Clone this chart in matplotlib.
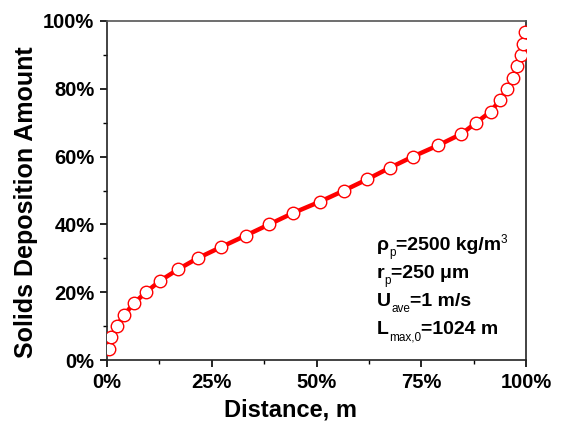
import matplotlib
matplotlib.use("Agg")
import matplotlib.pyplot as plt
from matplotlib.ticker import MultipleLocator, FuncFormatter

plt.rcParams['font.family'] = ['Liberation Sans', 'DejaVu Sans']

# Data (percent)
distance = [0.55, 1.0, 2.3, 4.1, 6.4, 9.3, 12.6, 16.9, 21.6, 27.2, 33.1, 38.7,
            44.3, 50.8, 56.6, 62.1, 67.5, 73.0, 79.0, 84.6, 88.1, 91.6, 93.8,
            95.5, 96.9, 97.9, 98.7, 99.4, 99.8]
deposition = [3.3, 6.7, 10.0, 13.3, 16.7, 20.0, 23.3, 26.7, 30.0, 33.3, 36.7, 40.0,
              43.3, 46.7, 50.0, 53.3, 56.7, 60.0, 63.3, 66.7, 70.0, 73.3, 76.7,
              80.0, 83.3, 86.7, 90.0, 93.3, 96.7]
x_ticks = [0, 25, 50, 75, 100]
y_ticks = [0, 20, 40, 60, 80, 100]
# annotation lines as (text, kind) pieces: kind n=normal, sub=subscript, sup=superscript
annotation_lines = [
    [("ρ", "n"), ("p", "sub"), ("=2500 kg/m", "n"), ("3", "sup")],
    [("r", "n"), ("p", "sub"), ("=250 μm", "n")],
    [("U", "n"), ("ave", "sub"), ("=1 m/s", "n")],
    [("L", "n"), ("max,0", "sub"), ("=1024 m", "n")],
]

W, H = 562, 425
fig = plt.figure(figsize=(W / 100, H / 100), dpi=100)
ax = fig.add_axes([107 / W, 65 / H, 419 / W, 339 / H])

ax.plot(distance, deposition, color='#ff0000', lw=3.2, marker='o', ms=9,
        mfc='white', mec='#ff0000', mew=1.0, zorder=3)

ax.set_xlim(0, 100)
ax.set_ylim(0, 100)
ax.set_xticks(x_ticks)
ax.set_yticks(y_ticks)
ax.xaxis.set_minor_locator(MultipleLocator(12.5))
ax.yaxis.set_minor_locator(MultipleLocator(10))
fmt = FuncFormatter(lambda v, p: f"{v:.0f}%")
ax.xaxis.set_major_formatter(fmt)
ax.yaxis.set_major_formatter(fmt)
ax.tick_params(which='major', direction='out', length=5, width=1.2,
               labelsize=14.5, pad=4, top=False, right=False)
ax.tick_params(which='minor', direction='out', length=3, width=1.0,
               top=False, right=False)
for lab in ax.get_xticklabels() + ax.get_yticklabels():
    lab.set_fontweight('bold')
for s in ax.spines.values():
    s.set_linewidth(1.2)
    s.set_color('#222222')
ax.spines['top'].set_color('#555555')

ax.set_xlabel("Distance, m", fontsize=17, fontweight='bold')
ax.set_ylabel("Solids Deposition Amount", fontsize=18, fontweight='bold')
ax.xaxis.set_label_coords((291 - 107) / 419, (360 - 399) / 339)
ax.yaxis.set_label_coords((38 - 107) / 419, (360 - 202) / 339)

# annotation, laid out piece by piece (pixel coordinates from top-left)
fig.canvas.draw()
renderer = fig.canvas.get_renderer()
x_start = 377
baselines = [250, 278, 306, 334]
for pieces, base in zip(annotation_lines, baselines):
    x = x_start
    for txt, kind in pieces:
        if kind == "n":
            size, weight, dy = 14, 'bold', 0
        elif kind == "sub":
            size, weight, dy = 8.5, 'normal', -6
        else:
            size, weight, dy = 8.5, 'normal', 7
        t = fig.text(x / W, (H - base + dy) / H, txt, fontsize=size,
                     fontweight=weight, ha='left', va='baseline')
        bb = t.get_window_extent(renderer)
        x = bb.x1

fig.savefig("out.png", dpi=100)
